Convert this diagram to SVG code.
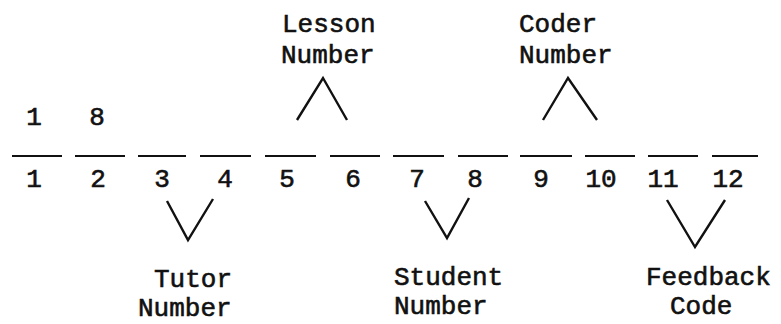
<svg xmlns="http://www.w3.org/2000/svg" width="781" height="324" viewBox="0 0 781 324">
<style>
  text { font-family: "Liberation Mono", "Courier New", monospace; font-size: 26px; fill: #111; stroke: #111; stroke-width: 0.6px; }
  .num { text-anchor: middle; }
  .slot { stroke: #111; stroke-width: 2.2; }
  .caret { fill: none; stroke: #111; stroke-width: 2.4; stroke-linejoin: miter; }
</style>
<rect width="781" height="324" fill="#fff"/>
<g id="slots">
  <line class="slot" x1="12" y1="156" x2="62" y2="156"/>
  <line class="slot" x1="75" y1="156" x2="125" y2="156"/>
  <line class="slot" x1="138" y1="156" x2="186" y2="156"/>
  <line class="slot" x1="200" y1="156" x2="251" y2="156"/>
  <line class="slot" x1="265" y1="156" x2="316" y2="156"/>
  <line class="slot" x1="330" y1="156" x2="380" y2="156"/>
  <line class="slot" x1="393" y1="156" x2="444" y2="156"/>
  <line class="slot" x1="458" y1="156" x2="508" y2="156"/>
  <line class="slot" x1="520" y1="156" x2="572" y2="156"/>
  <line class="slot" x1="585" y1="156" x2="635" y2="156"/>
  <line class="slot" x1="648" y1="156" x2="698" y2="156"/>
  <line class="slot" x1="712" y1="156" x2="758" y2="156"/>
</g>
<g id="top-values">
  <text class="num" x="34" y="125">1</text>
  <text class="num" x="97" y="125">8</text>
</g>
<g id="positions">
  <text class="num" x="34" y="187">1</text>
  <text class="num" x="98" y="187">2</text>
  <text class="num" x="162" y="187">3</text>
  <text class="num" x="225" y="187">4</text>
  <text class="num" x="287" y="187">5</text>
  <text class="num" x="353" y="187">6</text>
  <text class="num" x="417" y="187">7</text>
  <text class="num" x="475" y="187">8</text>
  <text class="num" x="541" y="187">9</text>
  <text class="num" x="601" y="187">10</text>
  <text class="num" x="663" y="187">11</text>
  <text class="num" x="728" y="187">12</text>
</g>
<g id="connectors">
  <polyline class="caret" points="297,120 323,78 347,120"/>
  <polyline class="caret" points="543,120 568,78 597,120"/>
  <polyline class="caret" points="167,201 188,240 213,199"/>
  <polyline class="caret" points="425,201 447,238 469,198"/>
  <polyline class="caret" points="667,200 695,247 725,200"/>
</g>
<g id="lesson-number">
  <text x="282" y="32">Lesson</text>
  <text x="281" y="63">Number</text>
</g>
<g id="coder-number">
  <text x="519" y="32">Coder</text>
  <text x="519" y="63">Number</text>
</g>
<g id="tutor-number">
  <text x="154" y="287">Tutor</text>
  <text x="138" y="316">Number</text>
</g>
<g id="student-number">
  <text x="394" y="285">Student</text>
  <text x="394" y="314">Number</text>
</g>
<g id="feedback-code">
  <text x="646" y="285">Feedback</text>
  <text x="670" y="314">Code</text>
</g>
</svg>
